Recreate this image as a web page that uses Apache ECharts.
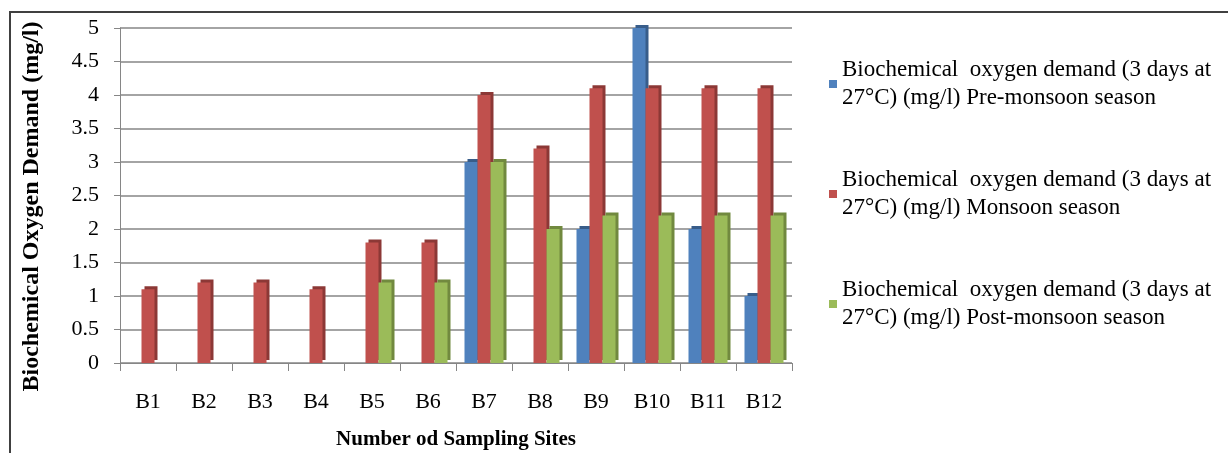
<!DOCTYPE html>
<html><head><meta charset="utf-8">
<script src="https://cdn.jsdelivr.net/npm/echarts@6/dist/echarts.min.js"></script>
<style>html,body{margin:0;padding:0;background:#fff}#c{width:1228px;height:453px}</style>
</head><body><div id="c"></div>
<script>
const categories = ['B1','B2','B3','B4','B5','B6','B7','B8','B9','B10','B11','B12'];
const preMonsoon = [0,0,0,0,0,0,3,0,2,5,2,1];
const monsoon = [1.1,1.2,1.2,1.1,1.8,1.8,4.0,3.2,4.1,4.1,4.1,4.1];
const postMonsoon = [0,0,0,0,1.2,1.2,3,2,2.2,2.2,2.2,2.2];
const seriesNames = [
  'Biochemical  oxygen demand (3 days at\n27°C) (mg/l) Pre-monsoon season',
  'Biochemical  oxygen demand (3 days at\n27°C) (mg/l) Monsoon season',
  'Biochemical  oxygen demand (3 days at\n27°C) (mg/l) Post-monsoon season'
];
const colors = ['#4F81BD','#C0504D','#9BBB59'];
const sideColors = ['#385D8A','#8C3836','#71893F'];
const font = '"Liberation Serif", "DejaVu Serif", serif';

const chart = echarts.init(document.getElementById('c'));
function mk(i, data){
  return {
    name: seriesNames[i], type: 'bar', data: data,
    barWidth: 13, barGap: '0%',
    itemStyle: {color: colors[i], shadowColor: sideColors[i], shadowBlur: 0, shadowOffsetX: 3, shadowOffsetY: -3},
    z: 2
  };
}
chart.setOption({
  animation: false,
  graphic: [{type:'rect', shape:{x:10,y:12,width:1230,height:460}, style:{fill:'none', stroke:'#404040', lineWidth:2}, z:-1}],
  grid: {left: 120, right: 436, top: 28, bottom: 90, containLabel: false, outerBoundsMode: 'none'},
  legend: {
    orient: 'vertical', left: 824, top: 51, itemGap: 54,
    itemWidth: 8, itemHeight: 8, icon: 'rect',
    textStyle: {fontFamily: font, fontSize: 23, color: '#000', lineHeight: 28},
    data: seriesNames
  },
  xAxis: {
    type: 'category', data: categories,
    name: 'Number od Sampling Sites', nameLocation: 'middle', nameGap: 66,
    nameTextStyle: {fontFamily: font, fontSize: 21, fontWeight: 'bold', color: '#000'},
    axisLine: {lineStyle: {color: '#868686'}},
    axisTick: {show: true, length: 8, lineStyle: {color: '#868686'}},
    axisLabel: {fontFamily: font, fontSize: 22, color: '#000', margin: 28}
  },
  yAxis: {
    type: 'value', min: 0, max: 5, interval: 0.5,
    name: 'Biochemical Oxygen Demand (mg/l)', nameLocation: 'middle', nameGap: 76,
    nameTextStyle: {fontFamily: font, fontSize: 24, fontWeight: 'bold', color: '#000', padding: [0, 22, 0, 0]},
    axisLine: {show: true, lineStyle: {color: '#868686'}},
    axisTick: {show: true, length: 6, lineStyle: {color: '#868686'}},
    axisLabel: {fontFamily: font, fontSize: 22, color: '#000', margin: 21},
    splitLine: {lineStyle: {color: '#868686', width: 1.5}}
  },
  series: [mk(0, preMonsoon), mk(1, monsoon), mk(2, postMonsoon)]
});
</script></body></html>
